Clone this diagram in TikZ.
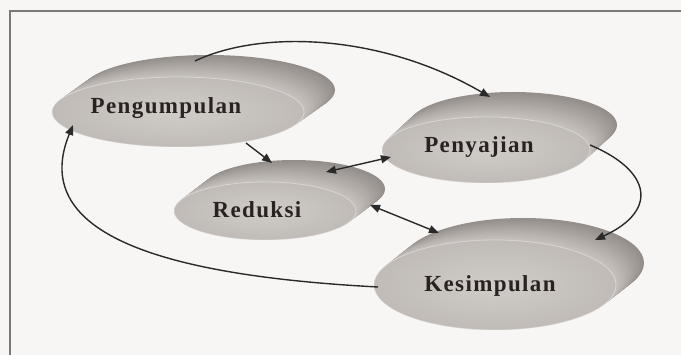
\documentclass[tikz,border=0pt]{standalone}
\usepackage{fontspec}
\setmainfont{Liberation Serif}
\newfontfamily\lblfont[LetterSpace=6]{Liberation Serif}
\usetikzlibrary{arrows.meta}
\definecolor{bg}{HTML}{F8F6F4}
\definecolor{rimdark}{HTML}{948E8A}
\definecolor{rimlight}{HTML}{C8C3BF}
\definecolor{face}{HTML}{C0BBB7}
\definecolor{faceinner}{HTML}{D0CCC8}
\definecolor{framegray}{HTML}{7A7A7A}
\definecolor{ink}{HTML}{2A2A2A}
\definecolor{txt}{HTML}{2A2220}
\newcommand{\mydisk}[6]{%
  \foreach \i in {0,...,24}{%
    \pgfmathsetmacro{\tt}{\i/24}%
    \pgfmathsetmacro{\pc}{100*\tt}%
    \fill[rimlight!\pc!rimdark] ({#1+#5*(1-\tt)},{#2+#6*(1-\tt)}) ellipse [x radius=#3, y radius=#4];
  }%
  \shade[inner color=faceinner, outer color=face] (#1,#2) ellipse [x radius=#3, y radius=#4];
  \draw[white, opacity=0.35, line width=0.8pt] (#1,#2) ellipse [x radius=#3, y radius=#4];
}
\tikzset{
  lbl/.style={font=\lblfont\bfseries\fontsize{23}{23}\selectfont, text=txt, inner sep=0pt},
  conn/.style={draw=ink, line width=1.4pt, -{Triangle[length=10pt,width=8pt]}},
  conn2/.style={draw=ink, line width=1.4pt, {Triangle[length=10pt,width=8pt]}-{Triangle[length=10pt,width=8pt]}}
}
\begin{document}
\begin{tikzpicture}[x=1pt,y=-1pt]
\useasboundingbox (0,0) rectangle (681,355);
\fill[bg] (0,0) rectangle (681,355);
\draw[framegray, line width=2pt] (681,11) -- (9.5,11) -- (9.5,355);
% disks
\mydisk{178}{112}{126}{35}{31}{-22}
\mydisk{486}{150}{104}{33}{27}{-25}
\mydisk{265}{211}{91}{29}{29}{-22}
\mydisk{495}{285}{121}{45}{28}{-22}
% labels
\node[lbl] (pen) at (166,108) {Pengumpulan};
\node[lbl] (sav) at (479,147) {Penyajian};
\node[lbl] (red) at (257,210) {Reduksi};
\node[lbl] (kes) at (490,286) {Kesimpulan};
% connector ends
\coordinate (a1s) at (195,61);
\coordinate (a1e) at (490,97);
\coordinate (a2s) at (246,143);
\coordinate (a2e) at (272,163);
\coordinate (a3s) at (326,172);
\coordinate (a3e) at (391,157);
\coordinate (a4s) at (370,205);
\coordinate (a4e) at (439,233);
\coordinate (a5s) at (590,145);
\coordinate (a5e) at (595,240);
\coordinate (a6s) at (378,287);
\coordinate (a6e) at (73,125);
\draw[conn] (a1s) .. controls (260,30) and (380,33) .. (a1e);
\draw[conn] (a2s) -- (a2e);
\draw[conn2] (a3s) -- (a3e);
\draw[conn2] (a4s) -- (a4e);
\draw[conn] (a5s) .. controls (650,170) and (660,210) .. (a5e);
\draw[conn] (a6s) .. controls (150,275) and (30,230) .. (a6e);
\end{tikzpicture}
\end{document}
